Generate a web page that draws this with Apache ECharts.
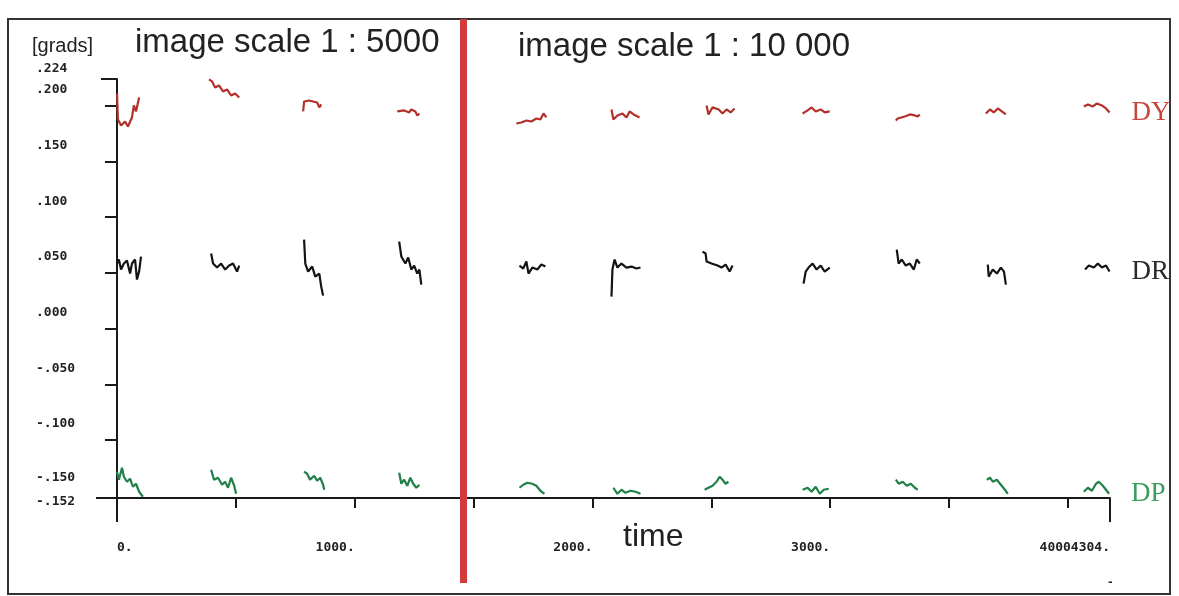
<!DOCTYPE html>
<html>
<head>
<meta charset="utf-8">
<script src="https://cdn.jsdelivr.net/npm/echarts@6/dist/echarts.min.js"></script>
<style>
html,body{margin:0;padding:0;background:#fff;}
#chart{width:1179px;height:596px;}
</style>
</head>
<body>
<div id="chart"></div>
<script>
// ---- axis definitions ----
const X_MIN = 0;
const X_MAX = 4177;
const Y_MIN = -0.152;
const Y_MAX = 0.224;
const xTickValues = [500, 1000, 1500, 2000, 2500, 3000, 3500, 4000];
const xEndTicks = [0, 4177];
const xLabelValues = [0, 1000, 2000, 3000, 4177];
const xLabelTexts = ['0.', '1000.', '2000.', '3000.', '40004304.'];
const yTickValues = [0.2, 0.15, 0.1, 0.05, 0, -0.05, -0.1];
const yLabelValues = [0.224, 0.2, 0.15, 0.1, 0.05, 0, -0.05, -0.1, -0.15, -0.152];
const yLabelTexts = ['.224', '.200', '.150', '.100', '.050', '.000', '-.050', '-.100', '-.150', '-.152'];
const SEPARATOR_X = 1457;
const seriesNames = ['DY', 'DR', 'DP'];

// ---- series values: short traces ([time, grads]) separated by gaps ----
const dyTraces = [
  [[0,.2110],[4,.1877],[17,.1823],[34,.1859],[46,.1814],[63,.1895],[71,.2003],[80,.1949],[93,.2074]],
  [[387,.2236],[400,.2218],[413,.2164],[429,.2182],[446,.2128],[463,.2146],[480,.2092],[497,.2110],[514,.2074]],
  [[783,.1949],[787,.2038],[808,.2047],[825,.2038],[842,.2029],[851,.1985],[859,.2012]],
  [[1179,.1949],[1208,.1958],[1229,.1940],[1238,.1967],[1255,.1949],[1263,.1913],[1272,.1931]],
  [[1680,.1841],[1701,.1850],[1722,.1868],[1743,.1859],[1764,.1886],[1781,.1877],[1794,.1931],[1806,.1895]],
  [[2080,.1967],[2088,.1877],[2105,.1913],[2126,.1931],[2143,.1895],[2156,.1949],[2173,.1922],[2198,.1895]],
  [[2480,.2003],[2488,.1922],[2505,.1985],[2531,.1967],[2547,.1931],[2564,.1967],[2581,.1940],[2598,.1976]],
  [[2884,.1931],[2905,.1958],[2922,.1985],[2939,.1949],[2960,.1967],[2977,.1940],[2998,.1949]],
  [[3276,.1868],[3284,.1886],[3314,.1904],[3335,.1922],[3356,.1913],[3368,.1904],[3377,.1922]],
  [[3655,.1931],[3672,.1967],[3688,.1940],[3705,.1976],[3722,.1949],[3739,.1922]],
  [[4067,.1994],[4084,.2012],[4105,.1994],[4122,.2020],[4143,.2003],[4160,.1976],[4175,.1940]]
];
const drTraces = [
  [[0,.0584],[8,.0620],[17,.0530],[29,.0584],[42,.0611],[55,.0494],[63,.0584],[76,.0620],[84,.0440],[93,.0512],[101,.0647]],
  [[396,.0674],[404,.0584],[421,.0548],[438,.0584],[455,.0530],[472,.0566],[488,.0584],[505,.0512],[514,.0566]],
  [[787,.0799],[792,.0584],[804,.0512],[821,.0557],[834,.0467],[851,.0494],[859,.0377],[867,.0296]],
  [[1187,.0781],[1196,.0647],[1213,.0584],[1225,.0638],[1238,.0530],[1250,.0566],[1263,.0494],[1272,.0530],[1280,.0395]],
  [[1693,.0566],[1709,.0539],[1722,.0602],[1731,.0494],[1747,.0548],[1768,.0530],[1785,.0575],[1802,.0557]],
  [[2080,.0287],[2084,.0530],[2093,.0620],[2105,.0548],[2122,.0584],[2143,.0548],[2164,.0557],[2185,.0539],[2202,.0548]],
  [[2463,.0691],[2476,.0674],[2480,.0602],[2501,.0584],[2526,.0566],[2543,.0548],[2560,.0575],[2577,.0512],[2589,.0566]],
  [[2888,.0404],[2897,.0512],[2909,.0548],[2926,.0584],[2943,.0530],[2960,.0566],[2977,.0512],[2998,.0548]],
  [[3280,.0709],[3288,.0584],[3301,.0620],[3318,.0566],[3335,.0584],[3352,.0530],[3364,.0620],[3377,.0584]],
  [[3663,.0575],[3667,.0467],[3684,.0530],[3701,.0494],[3718,.0548],[3731,.0512],[3739,.0395]],
  [[4072,.0530],[4088,.0566],[4109,.0548],[4126,.0584],[4143,.0548],[4160,.0566],[4175,.0512]]
];
const dpTraces = [
  [[0,-.1284],[8,-.1356],[21,-.1248],[29,-.1329],[42,-.1374],[55,-.1347],[67,-.1419],[80,-.1392],[93,-.1464],[109,-.1509]],
  [[396,-.1266],[408,-.1356],[425,-.1338],[442,-.1401],[455,-.1374],[467,-.1428],[480,-.1338],[493,-.1410],[501,-.1482]],
  [[787,-.1284],[800,-.1302],[812,-.1356],[829,-.1320],[842,-.1365],[855,-.1338],[867,-.1401],[872,-.1446]],
  [[1187,-.1293],[1196,-.1392],[1208,-.1356],[1221,-.1410],[1234,-.1338],[1246,-.1392],[1259,-.1428],[1272,-.1401]],
  [[1693,-.1428],[1709,-.1401],[1726,-.1383],[1747,-.1392],[1764,-.1410],[1781,-.1455],[1798,-.1482]],
  [[2088,-.1428],[2105,-.1482],[2122,-.1446],[2139,-.1473],[2160,-.1455],[2181,-.1464],[2202,-.1482]],
  [[2472,-.1446],[2488,-.1428],[2505,-.1410],[2522,-.1374],[2535,-.1329],[2547,-.1356],[2560,-.1392],[2572,-.1374]],
  [[2884,-.1446],[2905,-.1428],[2922,-.1464],[2939,-.1419],[2956,-.1482],[2973,-.1446],[2994,-.1437]],
  [[3276,-.1356],[3288,-.1392],[3305,-.1374],[3322,-.1410],[3339,-.1392],[3356,-.1428],[3368,-.1446]],
  [[3659,-.1356],[3672,-.1338],[3684,-.1374],[3701,-.1356],[3718,-.1401],[3735,-.1446],[3747,-.1482]],
  [[4067,-.1464],[4084,-.1428],[4101,-.1455],[4118,-.1392],[4130,-.1374],[4147,-.1410],[4160,-.1446],[4173,-.1482]]
];

function joinTraces(traces) {
  const out = [];
  traces.forEach((t, i) => {
    if (i > 0) out.push('-');
    t.forEach(p => out.push(p));
  });
  return out;
}

const AX = '#1a1a1a';
const TICK_FONT = {fontFamily: 'DejaVu Sans Mono', fontWeight: 'bold', fontSize: 13, color: '#222'};

function yLabelStyle(v) {
  if (Math.abs(v - 0.224) < 1e-6) return 'e10';
  if (Math.abs(v + 0.152) < 1e-6) return 'd4';
  if (Math.abs(v + 0.15) < 1e-6) return 'e18';
  return 'e16';
}

const chart = echarts.init(document.getElementById('chart'), null, {renderer: 'canvas'});

const traceSeries = (name, traces, color, labelColor) => ({
  type: 'line',
  name: name,
  xAxisIndex: 0, yAxisIndex: 0,
  data: joinTraces(traces),
  connectNulls: false,
  showSymbol: false,
  symbol: 'none',
  animation: false,
  silent: true,
  clip: false,
  lineStyle: {color: color, width: 2.2},
  endLabel: {
    show: true,
    formatter: '{a}',
    distance: 22,
    color: labelColor,
    fontFamily: 'Liberation Serif',
    fontSize: 27
  }
});

const option = {
  backgroundColor: '#ffffff',
  animation: false,
  grid: [
    {left: 117, right: 69, top: 79, bottom: 98},
    {left: 117, right: 69, top: 19, bottom: 13}
  ],
  xAxis: [
    {
      type: 'value', gridIndex: 0, min: X_MIN, max: X_MAX, position: 'bottom',
      axisLine: {show: true, onZero: false, lineStyle: {color: AX, width: 2}},
      axisTick: {show: true, inside: false, length: 10, lineStyle: {color: AX, width: 2}, customValues: xTickValues},
      splitLine: {show: false},
      axisLabel: Object.assign({
        show: true, margin: 43, align: 'right', alignMinLabel: 'left',
        customValues: xLabelValues,
        formatter: function (v) {
          const i = xLabelValues.findIndex(x => Math.abs(x - v) < 1e-6);
          return i >= 0 ? xLabelTexts[i] : '';
        }
      }, TICK_FONT)
    },
    {
      type: 'value', gridIndex: 0, min: X_MIN, max: X_MAX, position: 'bottom',
      axisLine: {show: false, onZero: false},
      axisTick: {show: true, length: 24, lineStyle: {color: AX, width: 2}, customValues: xEndTicks},
      axisLabel: {show: false}, splitLine: {show: false}
    },
    {type: 'value', gridIndex: 1, min: X_MIN, max: X_MAX, show: false}
  ],
  yAxis: [
    {
      type: 'value', gridIndex: 0, min: Y_MIN, max: Y_MAX, position: 'left',
      axisLine: {show: true, onZero: false, lineStyle: {color: AX, width: 2}},
      axisTick: {show: true, length: 12, lineStyle: {color: AX, width: 2}, customValues: yTickValues},
      splitLine: {show: false},
      axisLabel: {
        show: true, margin: 81, align: 'left',
        customValues: yLabelValues,
        formatter: function (v) {
          const i = yLabelValues.findIndex(x => Math.abs(x - v) < 1e-6);
          if (i < 0) return '';
          return '{' + yLabelStyle(v) + '|' + yLabelTexts[i] + '}';
        },
        rich: {
          e16: Object.assign({padding: [0, 0, 32, 0]}, TICK_FONT),
          e10: Object.assign({padding: [0, 0, 20, 0]}, TICK_FONT),
          e18: Object.assign({padding: [0, 0, 36, 0]}, TICK_FONT),
          d4: Object.assign({padding: [8, 0, 0, 0]}, TICK_FONT)
        }
      }
    },
    {
      type: 'value', gridIndex: 0, min: Y_MIN, max: Y_MAX, position: 'left',
      axisLine: {show: false, onZero: false}, axisLabel: {show: false}, splitLine: {show: false},
      axisTick: {show: true, length: 16, lineStyle: {color: AX, width: 2}, customValues: [Y_MAX]}
    },
    {
      type: 'value', gridIndex: 0, min: Y_MIN, max: Y_MAX, position: 'left',
      axisLine: {show: false, onZero: false}, axisLabel: {show: false}, splitLine: {show: false},
      axisTick: {show: true, length: 21, lineStyle: {color: AX, width: 2}, customValues: [Y_MIN]}
    },
    {type: 'value', gridIndex: 1, min: 0, max: 1, show: false}
  ],
  series: [
    traceSeries(seriesNames[0], dyTraces, '#b3302a', '#c8473c'),
    traceSeries(seriesNames[1], drTraces, '#141414', '#2a2a2a'),
    traceSeries(seriesNames[2], dpTraces, '#1f8048', '#3d9c60'),
    {
      type: 'line', xAxisIndex: 2, yAxisIndex: 3, data: [], silent: true,
      markLine: {
        silent: true, symbol: ['none', 'none'], animation: false,
        label: {show: false},
        lineStyle: {color: '#d33b3b', width: 7, type: 'solid'},
        data: [{xAxis: SEPARATOR_X}]
      }
    }
  ],
  graphic: [
    {type: 'rect', shape: {x: 8, y: 19, width: 1162, height: 575}, style: {fill: 'none', stroke: '#333', lineWidth: 2}, silent: true, z: -1},
    {type: 'text', left: 32, top: 36, style: {text: '[grads]', fontFamily: 'Liberation Sans', fontSize: 20, fill: '#222'}},
    {type: 'text', left: 135, top: 26, style: {text: 'image scale 1 : 5000', fontFamily: 'Liberation Sans', fontSize: 33, fill: '#222'}},
    {type: 'text', left: 518, top: 30, style: {text: 'image scale 1 : 10 000', fontFamily: 'Liberation Sans', fontSize: 33, fill: '#222'}},
    {type: 'text', left: 623, top: 521, style: {text: 'time', fontFamily: 'Liberation Sans', fontSize: 32, fill: '#222'}},
    {type: 'text', left: 1107, top: 577, style: {text: '-', fontFamily: 'DejaVu Sans Mono', fontWeight: 'bold', fontSize: 11, fill: '#222'}}
  ]
};
chart.setOption(option);
</script>
</body>
</html>
